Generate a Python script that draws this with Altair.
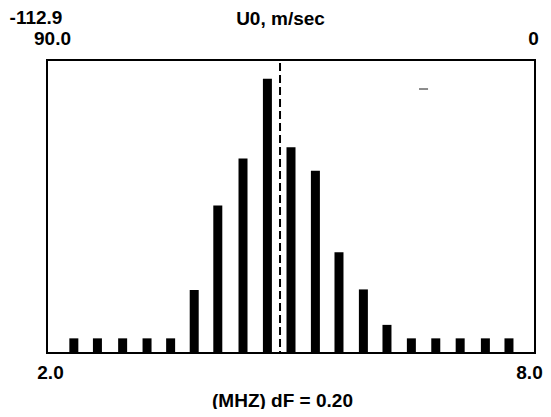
import altair as alt
import pandas as pd

# ---- data ----
freq_mhz = [2.33, 2.62, 2.93, 3.23, 3.52, 3.81, 4.10, 4.41, 4.71, 5.00,
            5.30, 5.59, 5.89, 6.18, 6.48, 6.78, 7.08, 7.39, 7.68]
amplitude = [5, 5, 5, 5, 5, 21.5, 50.3, 66.4, 93.6, 70.2,
             62.2, 34.4, 21.7, 9.6, 5, 5, 5, 5, 5]
marker_freq = [4.865]
small_dash = {"x": [6.574], "x2": [6.685], "y": [90.1]}
bottom_ticks = [2.0, 8.0]
top_ticks = [90.0, 0.0]
top_left_text = ["-112.9"]
x_title = "(MHZ) dF = 0.20"
top_title = "U0, m/sec"

FONT = "Liberation Sans"
FS = 19
W, H = 488, 293

bars_df = pd.DataFrame({"f": freq_mhz, "a": amplitude})
mark_df = pd.DataFrame({"f": marker_freq})
dash_df = pd.DataFrame(small_dash)
top_df = pd.DataFrame({"u0": top_ticks})
txt_df = pd.DataFrame({"t": top_left_text})
frame_df = pd.DataFrame({"x1": [2.0, 2.0, 2.0, 8.0], "x2": [8.0, 8.0, 2.0, 8.0],
                         "y1": [0, 100, 0, 0], "y2": [0, 100, 100, 100]})

xscale = alt.Scale(domain=[2.0, 8.0], nice=False, zero=False, padding=0)
yscale = alt.Scale(domain=[0, 100], nice=False)

x_axis = alt.Axis(values=bottom_ticks, format=".1f", ticks=False, domain=False,
                  grid=False, labelFont=FONT, labelFontSize=FS, labelFontWeight="bold",
                  labelColor="black", labelPadding=10, labelFlush=False,
                  labelOffset={"condition": {"test": "datum.value == 8", "value": -6},
                               "value": 3},
                  title=x_title, titleFont=FONT, titleFontSize=FS, titleFontWeight="bold",
                  titleColor="black", titleX=235, titleY=47, titleBaseline="middle")

bars = alt.Chart(bars_df).mark_bar(width=9, color="black").encode(
    x=alt.X("f:Q", scale=xscale, axis=x_axis),
    y=alt.Y("a:Q", scale=yscale, axis=None),
)

frame = alt.Chart(frame_df).mark_rule(color="black", strokeWidth=2).encode(
    x=alt.X("x1:Q", scale=xscale),
    x2="x2:Q",
    y=alt.Y("y1:Q", scale=yscale),
    y2="y2:Q",
)

vline = alt.Chart(mark_df).mark_rule(color="black", strokeWidth=2, strokeDash=[8, 4]).encode(
    x=alt.X("f:Q", scale=xscale),
    y=alt.value(3),
    y2=alt.value(H),
)

dash = alt.Chart(dash_df).mark_rule(color="#666666", strokeWidth=1.5).encode(
    x=alt.X("x:Q", scale=xscale),
    x2="x2:Q",
    y=alt.Y("y:Q", scale=yscale),
)

top_axis = alt.Axis(orient="top", values=top_ticks,
                    labelExpr="datum.value == 0 ? '0' : format(datum.value, '.1f')",
                    ticks=False, domain=False, grid=False, labelFlush=False,
                    labelFont=FONT, labelFontSize=FS, labelFontWeight="bold",
                    labelColor="black", labelPadding=12,
                    labelOffset={"condition": {"test": "datum.value == 90", "value": 5},
                                 "value": -2},
                    title=top_title, titleFont=FONT, titleFontSize=FS,
                    titleFontWeight="bold", titleColor="black",
                    titleX=233, titleY=-42, titleBaseline="middle")

top = alt.Chart(top_df).mark_point(opacity=0).encode(
    x=alt.X("u0:Q", scale=alt.Scale(domain=[90, 0], nice=False, zero=False, padding=0),
            axis=top_axis),
    y=alt.value(0),
)

txt = alt.Chart(txt_df).mark_text(font=FONT, fontSize=FS, fontWeight="bold",
                                  color="black", baseline="middle", align="center").encode(
    text="t:N",
    x=alt.value(-11),
    y=alt.value(-42),
)

view_bg = alt.ViewBackground(stroke="black", strokeWidth=2, fill="white")

base = alt.layer(bars, frame, vline, dash).resolve_scale(x="shared")
chart = alt.layer(base, top, txt).resolve_scale(x="independent").properties(
    width=W, height=H,
    view=view_bg,
    autosize=alt.AutoSizeParams(type="none"),
    padding={"left": 39, "top": 52, "right": 8, "bottom": 56},
).configure(background="white").configure_view(stroke="black", strokeWidth=2)

chart.save("out.html", embed_options={"renderer": "svg", "actions": False})
